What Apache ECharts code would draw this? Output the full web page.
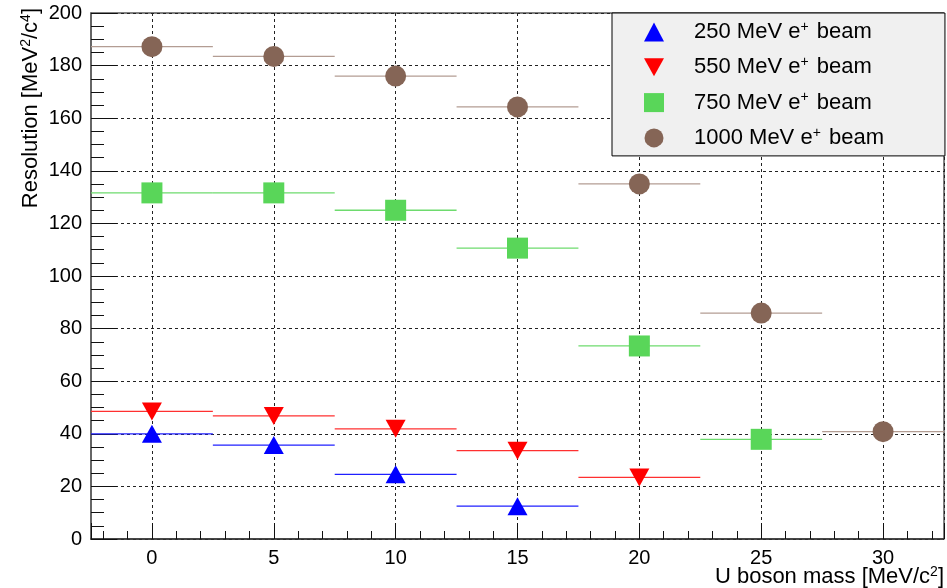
<!DOCTYPE html>
<html>
<head>
<meta charset="utf-8">
<script src="https://cdn.jsdelivr.net/npm/echarts@6/dist/echarts.min.js"></script>
<style>
  html, body { margin: 0; padding: 0; background: #fff; }
  #chart { width: 947px; height: 588px; }
</style>
</head>
<body>
<div id="chart"></div>
<script>
// U boson mass points (MeV/c^2), each the centre of a 5 MeV/c^2 wide bin
const masses = [0, 5, 10, 15, 20, 25, 30];
const binHalfWidth = 2.5;

// Mass resolution (MeV^2/c^4) for each positron beam energy
const res250 = [40.0, 35.7, 24.6, 12.5];
const res550 = [48.5, 46.8, 41.9, 33.6, 23.4];
const res750 = [131.6, 131.6, 125.0, 110.6, 73.4, 37.9];
const res1000 = [187.2, 183.5, 176.0, 164.3, 135.0, 85.9, 40.8];

const beamNames = ['250 MeV e+ beam', '550 MeV e+ beam', '750 MeV e+ beam', '1000 MeV e+ beam'];
const yTicks = [0, 20, 40, 60, 80, 100, 120, 140, 160, 180, 200];

const FONT = '"Liberation Sans", Arial, sans-serif';

const beams = [
  { name: beamNames[0], values: res250, color: '#0000ff', bar: '#2020ff',
    symbol: 'triangle', size: [20, 18] },
  { name: beamNames[1], values: res550, color: '#ff0000', bar: '#ff3030',
    symbol: 'path://M0,0L2,0L1,1.8Z', size: [20, 18] },
  { name: beamNames[2], values: res750, color: '#59d659', bar: '#6edb6e',
    symbol: 'rect', size: [21, 21] },
  { name: beamNames[3], values: res1000, color: '#856556', bar: '#b39d93',
    symbol: 'circle', size: 21 }
];

const series = [];
beams.forEach(b => {
  const pts = b.values.map((v, i) => [masses[i], v]);
  // horizontal bin-width bars
  series.push({
    type: 'custom',
    name: b.name + ' bins',
    silent: true,
    z: 2,
    data: pts,
    renderItem: (params, api) => {
      const x = api.value(0), y = api.value(1);
      const a = api.coord([x - binHalfWidth, y]);
      const c = api.coord([x + binHalfWidth, y]);
      return {
        type: 'line',
        shape: { x1: a[0], y1: a[1], x2: c[0], y2: c[1] },
        style: { stroke: b.bar, lineWidth: 1.3 }
      };
    }
  });
  // markers
  series.push({
    type: 'scatter',
    name: b.name,
    z: 3,
    data: pts,
    symbol: b.symbol,
    symbolSize: b.size,
    itemStyle: { color: b.color, opacity: 1 }
  });
});

const legendIcons = ['triangle', 'path://M0,0L2,0L1,1.8Z', 'rect', 'circle'];

const option = {
  animation: false,
  backgroundColor: '#ffffff',
  grid: {
    left: 91, right: 3, top: 13, bottom: 49,
    show: true, borderColor: '#000', borderWidth: 1, backgroundColor: 'transparent'
  },
  legend: {
    orient: 'vertical',
    left: 612, top: 13,
    padding: [7, 61, 6, 32],
    backgroundColor: '#f0f0f0',
    borderColor: '#000',
    borderWidth: 1,
    itemWidth: 20,
    itemHeight: 19,
    itemGap: 11.3,
    selectedMode: false,
    data: beamNames.map((n, i) => ({ name: n, icon: legendIcons[i] })),
    formatter: n => n.replace('e+', 'e{sup|+}'),
    textStyle: {
      fontFamily: FONT, fontSize: 22, color: '#000', lineHeight: 24,
      padding: [0, 0, 0, 25],
      rich: { sup: { fontFamily: FONT, fontSize: 14, verticalAlign: 'top', lineHeight: 24, padding: [0, 2, 8, 0] } }
    }
  },
  xAxis: {
    type: 'value',
    min: -2.5, max: 32.5,
    splitNumber: 7,
    axisLine: { show: true, onZero: false, lineStyle: { color: '#333', width: 1.5 } },
    axisTick: { show: true, inside: true, length: 16, lineStyle: { color: '#111' } },
    minorTick: { show: true, splitNumber: 5, length: 8, lineStyle: { color: '#111' } },
    splitLine: { show: true, lineStyle: { color: '#222', type: [3, 3], width: 1 } },
    axisLabel: {
      fontFamily: FONT, fontSize: 20, color: '#000', margin: 9,
      showMinLabel: false, showMaxLabel: false,
      formatter: v => (Math.abs(v % 5) < 1e-9 ? String(v) : '')
    }
  },
  yAxis: {
    type: 'value',
    min: yTicks[0], max: yTicks[yTicks.length - 1], interval: 20,
    axisLine: { show: true, onZero: false, lineStyle: { color: '#666', width: 2 } },
    axisTick: { show: true, inside: true, length: 26, lineStyle: { color: '#111' } },
    minorTick: { show: true, splitNumber: 4, length: 13, lineStyle: { color: '#111' } },
    splitLine: { show: true, lineStyle: { color: '#222', type: [3, 3], width: 1 } },
    axisLabel: { fontFamily: FONT, fontSize: 20, color: '#000', margin: 9 }
  },
  graphic: [
    {
      type: 'text',
      x: 944, y: 577,
      style: {
        text: 'U boson mass [MeV/c{sup|2}]',
        fontFamily: FONT, fontSize: 22, fill: '#000',
        align: 'right', verticalAlign: 'middle', lineHeight: 24,
        rich: { sup: { fontFamily: FONT, fontSize: 14, verticalAlign: 'top', lineHeight: 24 } }
      }
    },
    {
      type: 'text',
      x: 31, y: 8,
      rotation: Math.PI / 2,
      style: {
        text: 'Resolution [MeV{sup|2}/c{sup|4}]',
        fontFamily: FONT, fontSize: 22, fill: '#000',
        align: 'right', verticalAlign: 'middle', lineHeight: 24,
        rich: { sup: { fontFamily: FONT, fontSize: 14, verticalAlign: 'top', lineHeight: 24 } }
      }
    }
  ],
  series: series
};

const chart = echarts.init(document.getElementById('chart'), null, { renderer: 'canvas' });
chart.setOption(option);
</script>
</body>
</html>
